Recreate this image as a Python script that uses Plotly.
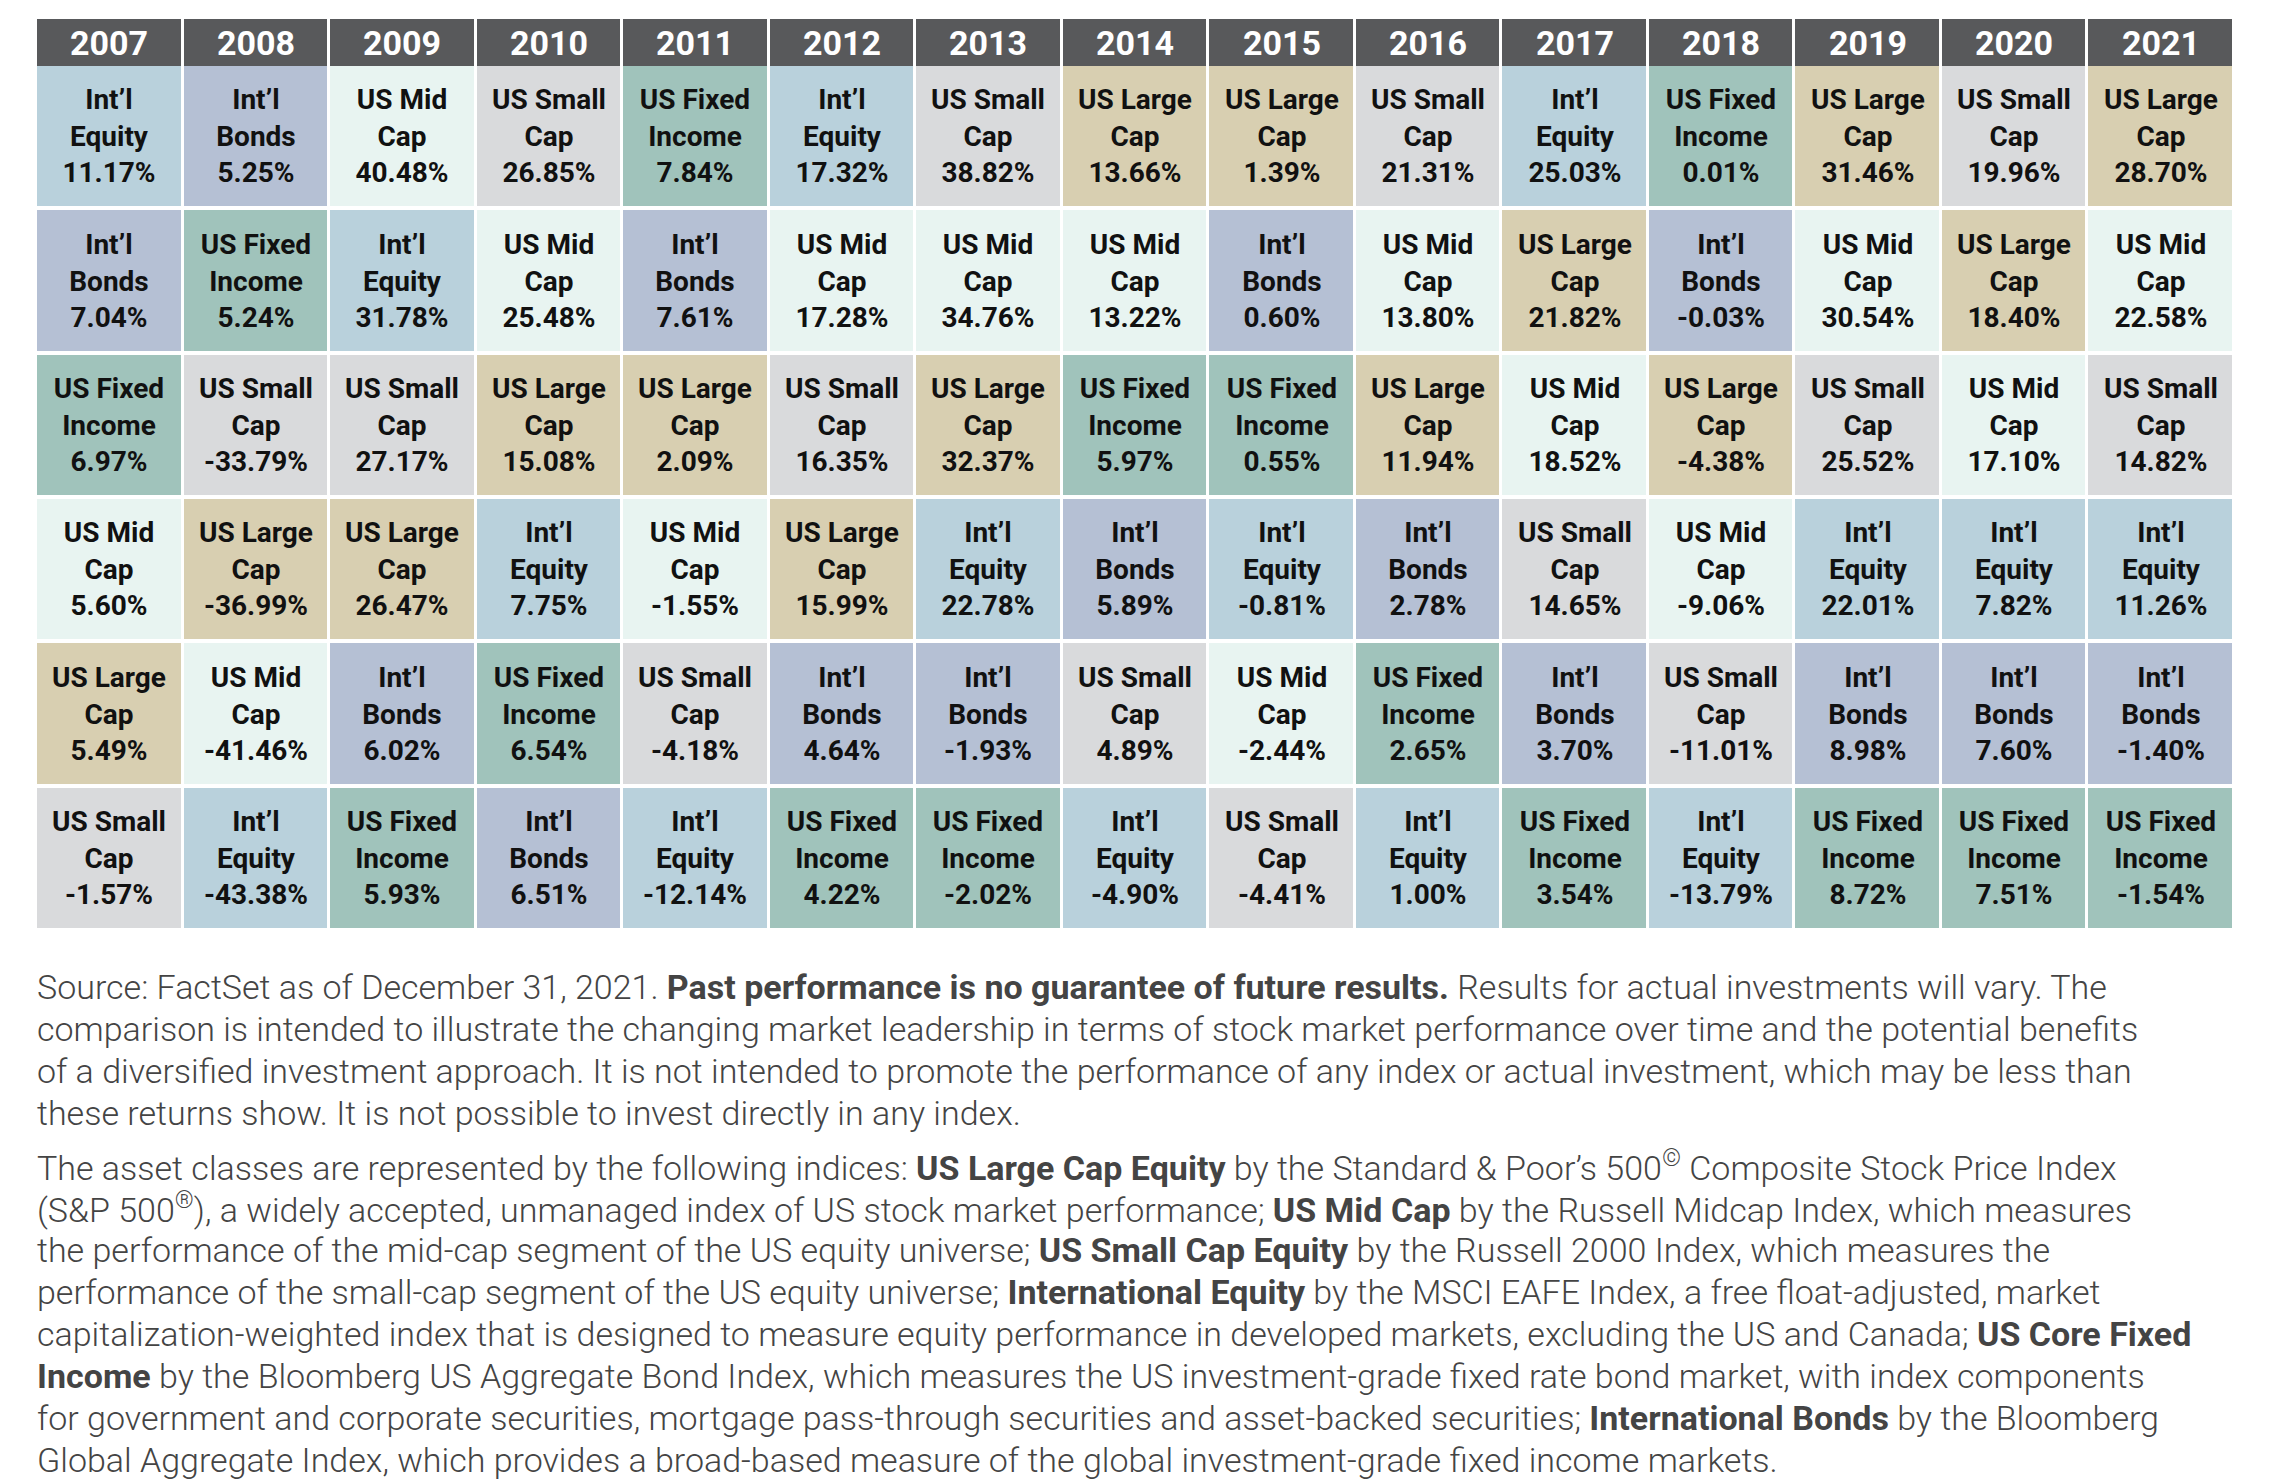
import plotly.graph_objects as go

years = [str(y) for y in range(2007, 2022)]
# asset classes ranked top to bottom per year
ranks = [
    ["IE", "IB", "FI", "MC", "LC", "SC"],
    ["IB", "FI", "SC", "LC", "MC", "IE"],
    ["MC", "IE", "SC", "LC", "IB", "FI"],
    ["SC", "MC", "LC", "IE", "FI", "IB"],
    ["FI", "IB", "LC", "MC", "SC", "IE"],
    ["IE", "MC", "SC", "LC", "IB", "FI"],
    ["SC", "MC", "LC", "IE", "IB", "FI"],
    ["LC", "MC", "FI", "IB", "SC", "IE"],
    ["LC", "IB", "FI", "IE", "MC", "SC"],
    ["SC", "MC", "LC", "IB", "FI", "IE"],
    ["IE", "LC", "MC", "SC", "IB", "FI"],
    ["FI", "IB", "LC", "MC", "SC", "IE"],
    ["LC", "MC", "SC", "IE", "IB", "FI"],
    ["SC", "LC", "MC", "IE", "IB", "FI"],
    ["LC", "MC", "SC", "IE", "IB", "FI"],
]
returns = [
    [11.17, 7.04, 6.97, 5.60, 5.49, -1.57],
    [5.25, 5.24, -33.79, -36.99, -41.46, -43.38],
    [40.48, 31.78, 27.17, 26.47, 6.02, 5.93],
    [26.85, 25.48, 15.08, 7.75, 6.54, 6.51],
    [7.84, 7.61, 2.09, -1.55, -4.18, -12.14],
    [17.32, 17.28, 16.35, 15.99, 4.64, 4.22],
    [38.82, 34.76, 32.37, 22.78, -1.93, -2.02],
    [13.66, 13.22, 5.97, 5.89, 4.89, -4.90],
    [1.39, 0.60, 0.55, -0.81, -2.44, -4.41],
    [21.31, 13.80, 11.94, 2.78, 2.65, 1.00],
    [25.03, 21.82, 18.52, 14.65, 3.70, 3.54],
    [0.01, -0.03, -4.38, -9.06, -11.01, -13.79],
    [31.46, 30.54, 25.52, 22.01, 8.98, 8.72],
    [19.96, 18.40, 17.10, 7.82, 7.60, 7.51],
    [28.70, 22.58, 14.82, 11.26, -1.40, -1.54],
]
asset_names = {"IE": "Int’l<br>Equity", "IB": "Int’l<br>Bonds", "MC": "US Mid<br>Cap",
               "SC": "US Small<br>Cap", "FI": "US Fixed<br>Income", "LC": "US Large<br>Cap"}
asset_order = ["IE", "IB", "MC", "SC", "FI", "LC"]
asset_colors = ["#b9d1dc", "#b5c0d4", "#e8f4f1", "#d9dadc", "#a0c3bb", "#d8cfb1"]
rows = [1, 2, 3, 4, 5, 6]

z = [[asset_order.index(ranks[c][r]) for c in range(len(years))] for r in range(6)]
txt = [[f"<b>{asset_names[ranks[c][r]]}<br>{returns[c][r]:.2f}%</b>" for c in range(len(years))] for r in range(6)]

n = len(asset_order)
cs = []
for i, col in enumerate(asset_colors):
    cs.append([i / n, col]); cs.append([(i + 1) / n, col])

W, H = 2273, 1481
fig = go.Figure()
fig.add_trace(go.Heatmap(x=years, y=["h"], z=[[0] * len(years)], colorscale=[[0, "#58595b"], [1, "#58595b"]],
                         showscale=False, xgap=3, ygap=0, hoverinfo="skip",
                         text=[[f"<b>{y}</b>" for y in years]], texttemplate="%{text}",
                         textfont=dict(family="Roboto", size=34, color="white"),
                         xaxis="x", yaxis="y2"))
fig.add_trace(go.Heatmap(x=years, y=rows, z=z, zmin=-0.5, zmax=n - 0.5, colorscale=cs, showscale=False,
                         xgap=3, ygap=4, text=txt, texttemplate="%{text}", hoverinfo="skip",
                         textfont=dict(family="Roboto", size=28, color="#111111"),
                         xaxis="x", yaxis="y"))

left, right = 28 / W, 2226 / W
fig.update_layout(
    width=W, height=H, margin=dict(l=0, r=0, t=0, b=0), plot_bgcolor="white", paper_bgcolor="white",
    xaxis=dict(domain=[left, right], visible=False, type="category"),
    yaxis=dict(domain=[1 - 922 / H, 1 - 56 / H], autorange="reversed", visible=False, type="category"),
    yaxis2=dict(domain=[1 - 58 / H, 1 - 11 / H], visible=False, type="category"),
)

para1 = [
    "Source: FactSet as of December 31, 2021. <b>Past performance is no guarantee of future results.</b> Results for actual investments will vary. The",
    "comparison is intended to illustrate the changing market leadership in terms of stock market performance over time and the potential benefits",
    "of a diversified investment approach. It is not intended to promote the performance of any index or actual investment, which may be less than",
    "these returns show. It is not possible to invest directly in any index.",
]
para2 = [
    "The asset classes are represented by the following indices: <b>US Large Cap Equity</b> by the Standard &amp; Poor’s 500<sup>©</sup> Composite Stock Price Index",
    "(S&amp;P 500<sup>®</sup>), a widely accepted, unmanaged index of US stock market performance; <b>US Mid Cap</b> by the Russell Midcap Index, which measures",
    "the performance of the mid-cap segment of the US equity universe; <b>US Small Cap Equity</b> by the Russell 2000 Index, which measures the",
    "performance of the small-cap segment of the US equity universe; <b>International Equity</b> by the MSCI EAFE Index, a free float-adjusted, market",
    "capitalization-weighted index that is designed to measure equity performance in developed markets, excluding the US and Canada; <b>US Core Fixed</b>",
    "<b>Income</b> by the Bloomberg US Aggregate Bond Index, which measures the US investment-grade fixed rate bond market, with index components",
    "for government and corporate securities, mortgage pass-through securities and asset-backed securities; <b>International Bonds</b> by the Bloomberg",
    "Global Aggregate Index, which provides a broad-based measure of the global investment-grade fixed income markets.",
]
for start, lines in ((979, para1), (1158, para2)):
    for i, line in enumerate(lines):
        fig.add_annotation(x=27 / W, y=1 - (start + 42 * i) / H, xref="paper", yref="paper", text=line,
                           showarrow=False, xanchor="left", yanchor="middle", align="left",
                           font=dict(family="Roboto", size=34, color="#444444", weight=300))

fig.write_html("out.html")
